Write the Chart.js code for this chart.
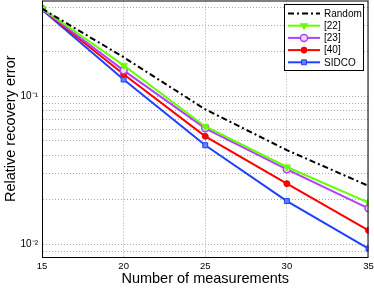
<!DOCTYPE html>
<html>
<head>
<meta charset="utf-8">
<script src="https://cdn.jsdelivr.net/npm/chart.js@4"></script>
<style>
  html, body { margin: 0; padding: 0; background: #fff; }
  #wrap { width: 374px; height: 288px; }
</style>
</head>
<body>
<div id="wrap"><canvas id="errChart" width="374" height="288"></canvas></div>
<script>
// ===== DATA =====
const measurements = [15, 20, 25, 30, 35];
const randomErr = [0.392, 0.184, 0.0817, 0.0433, 0.0248];
const ref22Err = [0.392, 0.162, 0.0626, 0.0333, 0.0191];
const ref23Err = [0.390, 0.150, 0.0608, 0.0321, 0.0175];
const ref40Err = [0.388, 0.141, 0.0537, 0.0257, 0.0124];
const sidcoErr = [0.386, 0.130, 0.0467, 0.0196, 0.00935];
const yGridTicks = [0.009, 0.01, 0.02, 0.03, 0.04, 0.05, 0.06, 0.07, 0.08, 0.09, 0.1, 0.2, 0.3, 0.4];
const yTickLabels = { '0.1': '10⁻¹', '0.01': '10⁻²' };

const pts = arr => arr.map((v, i) => ({ x: measurements[i], y: v }));
const font = '"Liberation Sans", Arial, sans-serif';

// ===== BOX + LEGEND PLUGIN =====
const boxLegend = {
  id: 'boxLegend',
  afterDraw(chart) {
    const { ctx, chartArea: a } = chart;
    ctx.save();
    ctx.strokeStyle = '#000';
    ctx.lineWidth = 1;
    ctx.setLineDash([]);
    ctx.strokeRect(a.left + 0.5, a.top + 0.5, a.right - a.left - 1, a.bottom - a.top);

    // legend box
    const lx = 284, ly = 4, lw = 79, lh = 66;
    ctx.fillStyle = '#fff';
    ctx.fillRect(lx, ly, lw, lh);
    ctx.strokeRect(lx + 0.5, ly + 0.5, lw, lh);
    ctx.font = '10px ' + font;
    ctx.textBaseline = 'middle';
    chart.data.datasets.forEach((ds, i) => {
      const y = 13.5 + i * 12.2;
      ctx.strokeStyle = ds.borderColor;
      ctx.lineWidth = ds.borderWidth;
      ctx.setLineDash(ds.borderDash || []);
      ctx.beginPath();
      ctx.moveTo(288, y);
      ctx.lineTo(320, y);
      ctx.stroke();
      ctx.setLineDash([]);
      if (ds.pointRadius > 0) {
        ctx.fillStyle = ds.pointBackgroundColor;
        ctx.strokeStyle = ds.borderColor;
        ctx.lineWidth = ds.pointBorderWidth;
        Chart.helpers.drawPoint(ctx, {
          pointStyle: ds.pointStyle,
          radius: ds.pointRadius,
          rotation: ds.pointRotation || 0,
          borderWidth: ds.pointBorderWidth
        }, 304, y);
      }
      ctx.fillStyle = '#000';
      ctx.fillText(ds.label, 324, y + 0.5);
    });
    ctx.restore();
  }
};

// ===== CHART =====
const gridOpts = { color: '#a8a8a8', lineWidth: 1, drawTicks: false, borderDash: [1, 2] };
const borderOpts = { display: true, color: 'rgba(0,0,0,0)', dash: [1, 2] };

const ctx = document.getElementById('errChart').getContext('2d');
const errChart = new Chart(ctx, {
  type: 'line',
  data: {
    datasets: [
      { label: 'Random', data: pts(randomErr), borderColor: '#000', borderWidth: 2, borderDash: [6, 3, 2, 3], pointRadius: 0 },
      { label: '[22]', data: pts(ref22Err), borderColor: '#66ff00', borderWidth: 2, pointStyle: 'triangle', pointRotation: 180, pointRadius: 4, pointBorderWidth: 1, pointBackgroundColor: '#66ff00' },
      { label: '[23]', data: pts(ref23Err), borderColor: '#b040ff', borderWidth: 2, pointStyle: 'circle', pointRadius: 3.5, pointBorderWidth: 1.5, pointBackgroundColor: '#efdcff' },
      { label: '[40]', data: pts(ref40Err), borderColor: '#ff0000', borderWidth: 2, pointStyle: 'circle', pointRadius: 3, pointBorderWidth: 1, pointBackgroundColor: '#ff0000' },
      { label: 'SIDCO', data: pts(sidcoErr), borderColor: '#2040ff', borderWidth: 2, pointStyle: 'rect', pointRadius: 3.5, pointBorderWidth: 1, pointBackgroundColor: '#6080ff' }
    ]
  },
  options: {
    responsive: false,
    animation: false,
    layout: { autoPadding: false, padding: { top: 0.5, right: 5.5, left: 0, bottom: 0 } },
    plugins: { legend: { display: false }, tooltip: { enabled: false } },
    scales: {
      x: {
        type: 'linear', min: 15, max: 35,
        afterFit: s => { s.height = 31; s.paddingLeft = 0; s.paddingRight = 0; },
        ticks: { stepSize: 5, color: '#000', font: { family: font, size: 9.5 }, padding: 4 },
        grid: gridOpts, border: borderOpts,
        title: { display: true, text: 'Number of measurements', color: '#000', font: { family: font, size: 14.5 }, padding: { top: -1, bottom: 0 } }
      },
      y: {
        type: 'logarithmic', min: 0.0082, max: 0.445,
        afterFit: s => { s.width = 42; s.paddingTop = 0; s.paddingBottom = 0; },
        afterBuildTicks: s => { s.ticks = yGridTicks.map(v => ({ value: v })); },
        ticks: { color: '#000', font: { family: font, size: 10 }, padding: 4, autoSkip: false, callback: v => yTickLabels[String(v)] || '' },
        grid: gridOpts, border: borderOpts,
        title: { display: true, text: 'Relative recovery error', color: '#000', font: { family: font, size: 14.5 }, padding: { top: 2, bottom: 0 } }
      }
    }
  },
  plugins: [boxLegend]
});
</script>
</body>
</html>
